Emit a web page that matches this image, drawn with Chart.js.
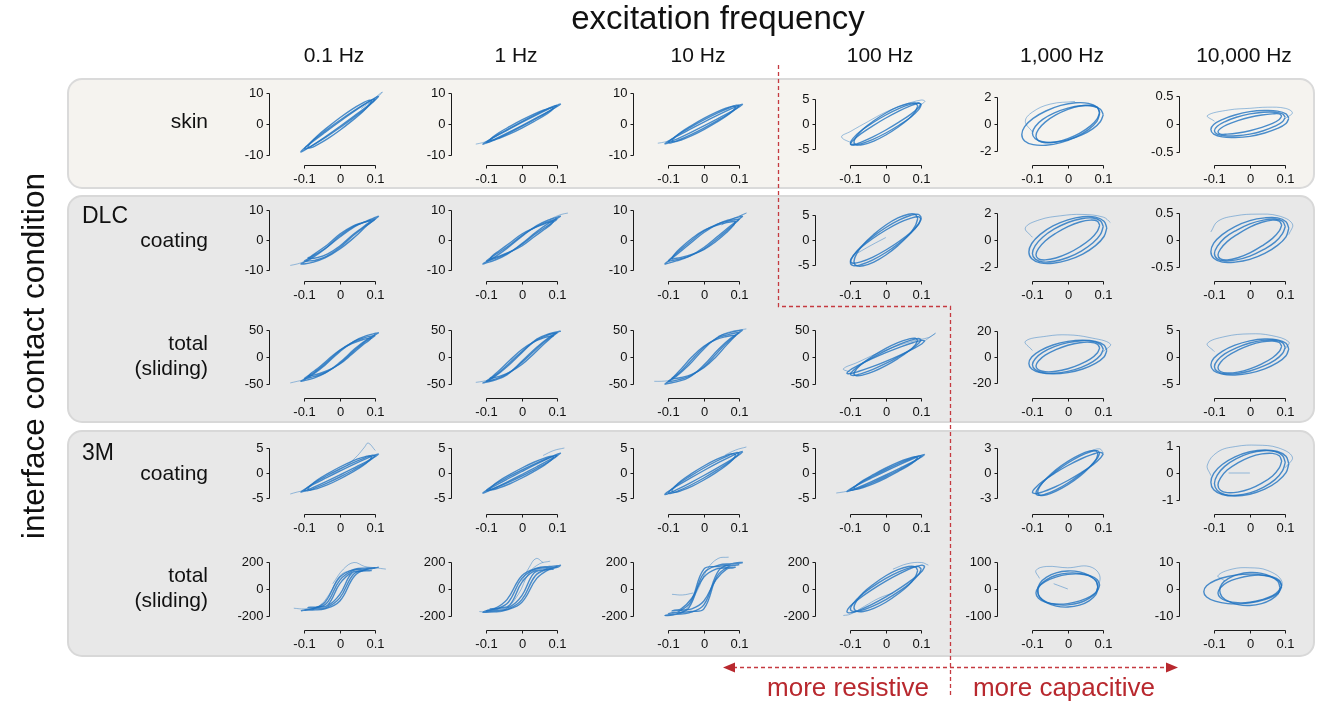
<!DOCTYPE html>
<html>
<head>
<meta charset="utf-8">
<script src="https://cdn.jsdelivr.net/npm/chart.js@4"></script>
<style>
  body { margin: 0; background: #fff; }
  #page { position: relative; width: 1325px; height: 702px; overflow: hidden; font-family: "Liberation Sans", Arial, Helvetica, sans-serif; }
  svg { position: absolute; left: 0; top: 0; }
  canvas { position: absolute; }
</style>
</head>
<body>
<div id="page">
  <svg id="bg" width="1325" height="702"></svg>
  <svg id="fg" width="1325" height="702"></svg>
</div>
<script>
// displacement samples for one cycle (mm), shared by the loops
const X10 = [0.1, 0.092, 0.071, 0.038, 0, -0.038, -0.071, -0.092, -0.1, -0.092, -0.071, -0.038, 0, 0.038, 0.071, 0.092, 0.1];
const X11 = [0.11, 0.102, 0.078, 0.042, 0, -0.042, -0.078, -0.102, -0.11, -0.102, -0.078, -0.042, 0, 0.042, 0.078, 0.102, 0.11];
const X09 = [0.09, 0.083, 0.064, 0.034, 0, -0.034, -0.064, -0.083, -0.09, -0.083, -0.064, -0.034, 0, 0.034, 0.064, 0.083, 0.09];
const X08 = [0.085, 0.079, 0.06, 0.033, 0, -0.033, -0.06, -0.079, -0.085, -0.079, -0.06, -0.033, 0, 0.033, 0.06, 0.079, 0.085];
const X11L = [0.09, 0.082, 0.058, 0.022, -0.02, -0.062, -0.098, -0.122, -0.13, -0.122, -0.098, -0.062, -0.02, 0.022, 0.058, 0.082, 0.09];

const freqLabels = ["0.1 Hz", "1 Hz", "10 Hz", "100 Hz", "1,000 Hz", "10,000 Hz"];
const xTicks = [-0.1, 0, 0.1];

// top y tick of every panel (rows: skin, DLC coating, DLC total, 3M coating, 3M total)
const yTickTop = [
  [10, 10, 10, 5, 2, 0.5],
  [10, 10, 10, 5, 2, 0.5],
  [50, 50, 50, 50, 20, 5],
  [5, 5, 5, 5, 3, 1],
  [200, 200, 200, 200, 100, 10]
];
// y axis limit of every panel
const yLimit = [
  [11.3, 11.3, 11.3, 7, 2.64, 0.625],
  [11.7, 11.7, 11.7, 7, 2.6, 0.65],
  [64.8, 64.8, 64.8, 64.8, 26.9, 6.5],
  [7, 7, 7, 7, 4.2, 1.32],
  [264, 264, 264, 264, 132, 13.2]
];

// ---- skin ----
const skin01 = [
  [X10, [8, 7.85, 6.5, 4.17, 1.2, -1.95, -4.81, -6.93, -8, -7.85, -6.5, -4.17, -1.2, 1.95, 4.81, 6.93, 8]],
  [X11, [9, 8.01, 5.8, 2.71, -0.8, -4.19, -6.93, -8.63, -9, -8.01, -5.8, -2.71, 0.8, 4.19, 6.93, 8.63, 9]],
  [X09, [7.5, 7.7, 6.72, 4.72, 2, -1.02, -3.89, -6.16, -7.5, -7.7, -6.72, -4.72, -2, 1.02, 3.89, 6.16, 7.5]],
  [[0.06, 0.09, 0.11, 0.12, 0.1, 0.08], [5, 7.5, 9.5, 10.3, 8, 6.5]]
];
const skin1 = [
  [X10, [6, 5.85, 4.81, 3.04, 0.8, -1.56, -3.68, -5.23, -6, -5.85, -4.81, -3.04, -0.8, 1.56, 3.68, 5.23, 6]],
  [X11, [6.5, 5.81, 4.24, 2.03, -0.5, -2.95, -4.95, -6.2, -6.5, -5.81, -4.24, -2.03, 0.5, 2.95, 4.95, 6.2, 6.5]],
  [X09, [5.2, 5.3, 4.6, 3.19, 1.3, -0.79, -2.76, -4.3, -5.2, -5.3, -4.6, -3.19, -1.3, 0.79, 2.76, 4.3, 5.2]],
  [[-0.13, -0.11, -0.09], [-6.5, -6, -5.2]]
];
const skin10 = [
  [X10, [6, 6.04, 5.16, 3.5, 1.3, -1.1, -3.32, -5.04, -6, -6.04, -5.16, -3.5, -1.3, 1.1, 3.32, 5.04, 6]],
  [X11, [6.4, 6.14, 4.95, 3, 0.6, -1.9, -4.1, -5.68, -6.4, -6.14, -4.95, -3, -0.6, 1.9, 4.1, 5.68, 6.4]],
  [X09, [5.5, 5.77, 5.16, 3.76, 1.8, -0.44, -2.62, -4.39, -5.5, -5.77, -5.16, -3.76, -1.8, 0.44, 2.62, 4.39, 5.5]],
  [[-0.13, -0.11, -0.09], [-6.2, -5.8, -5]]
];
const skin100 = [
  [X10, [3.8, 4.2, 3.96, 3.12, 1.8, 0.2, -1.41, -2.82, -3.8, -4.2, -3.96, -3.12, -1.8, -0.2, 1.41, 2.82, 3.8]],
  [X10, [4, 4.16, 3.68, 2.64, 1.2, -0.42, -1.98, -3.24, -4, -4.16, -3.68, -2.64, -1.2, 0.42, 1.98, 3.24, 4]],
  [X09, [3.6, 4.17, 4.1, 3.41, 2.2, 0.65, -0.99, -2.49, -3.6, -4.17, -4.1, -3.41, -2.2, -0.65, 0.99, 2.49, 3.6]],
  [[-0.09, -0.125, -0.1, -0.05, 0, 0.05, 0.1, 0.11, 0.09], [-4, -2.6, -1.5, 0.5, 2.4, 3.8, 4.8, 4.5, 3.5]]
];
const skin1k = [
  [X10, [0.7, 1.11, 1.34, 1.38, 1.2, 0.84, 0.35, -0.19, -0.7, -1.11, -1.34, -1.38, -1.2, -0.84, -0.35, 0.19, 0.7]],
  [X11L, [0.8, 1.28, 1.56, 1.6, 1.4, 0.98, 0.42, -0.2, -0.8, -1.28, -1.56, -1.6, -1.4, -0.98, -0.42, 0.2, 0.8]],
  [X09, [0.9, 1.25, 1.41, 1.36, 1.1, 0.68, 0.14, -0.41, -0.9, -1.25, -1.41, -1.36, -1.1, -0.68, -0.14, 0.41, 0.9]],
  [[-0.1, -0.12, -0.1, -0.05, 0.02], [-0.6, 0.2, 0.9, 1.5, 1.7]]
];
const skin10k = [
  [X10, [0.12, 0.18, 0.21, 0.21, 0.18, 0.12, 0.04, -0.04, -0.12, -0.18, -0.21, -0.21, -0.18, -0.12, -0.04, 0.04, 0.12]],
  [X11, [0.1, 0.18, 0.23, 0.24, 0.22, 0.16, 0.08, -0.01, -0.1, -0.18, -0.23, -0.24, -0.22, -0.16, -0.08, 0.01, 0.1]],
  [X09, [0.14, 0.18, 0.18, 0.16, 0.12, 0.06, -0.01, -0.08, -0.14, -0.18, -0.18, -0.16, -0.12, -0.06, 0.01, 0.08, 0.14]],
  [[-0.1, -0.12, -0.06, 0, 0.05, 0.1, 0.12, 0.1], [0.05, 0.15, 0.25, 0.28, 0.3, 0.28, 0.2, 0.1]]
];

// ---- DLC coating ----
const dlcCoat01 = [
  [X10, [7, 6.8, 6, 4.5, 1.5, -2.5, -5, -6.5, -7, -7, -6.8, -5.5, -2.5, 1.5, 4.5, 6.3, 7]],
  [X11, [8, 7.6, 6.5, 4.5, 1, -3, -6, -7.5, -8, -8, -7.5, -6, -3, 1, 5, 7.2, 8]],
  [X09, [6.5, 6.4, 5.8, 4.5, 2, -1.5, -4, -5.6, -6, -6.2, -5.9, -4.6, -2, 1.5, 4.2, 5.9, 6.5]],
  [[-0.14, -0.12, -0.1], [-8.5, -8, -7.2]]
];
const dlcCoat1 = [
  [X10, [7, 6.8, 6, 4.3, 1.5, -2, -4.6, -6.3, -7, -6.8, -6, -4.3, -1.5, 2, 4.6, 6.3, 7]],
  [X11, [8, 7.7, 6.8, 4.8, 1.2, -2.8, -5.8, -7.4, -8, -7.7, -6.8, -4.8, -1.2, 2.8, 5.8, 7.4, 8]],
  [X09, [6.3, 6.1, 5.4, 4, 2, -1, -3.6, -5.3, -6.3, -6.1, -5.4, -4, -2, 1, 3.6, 5.3, 6.3]],
  [[0.08, 0.11, 0.13], [7, 8.5, 9]]
];
const dlcCoat10 = [
  [X10, [7, 6.9, 6.4, 5.3, 3, -0.5, -3.8, -6, -7, -6.9, -6.4, -5.3, -3, 0.5, 3.8, 6, 7]],
  [X11, [8, 7.8, 7, 5.5, 2.5, -1.5, -5, -7.2, -8, -7.8, -7, -5.5, -2.5, 1.5, 5, 7.2, 8]],
  [X09, [6.3, 6.2, 5.8, 4.8, 3.2, 0.5, -2.5, -4.8, -6.3, -6.2, -5.8, -4.8, -3.2, -0.5, 2.5, 4.8, 6.3]],
  [[0.05, 0.08, 0.11, 0.12, 0.1], [5, 7, 8.5, 9, 8]]
];
const dlcCoat100 = [
  [X10, [4.5, 5.12, 4.95, 4.03, 2.5, 0.59, -1.41, -3.2, -4.5, -5.12, -4.95, -4.03, -2.5, -0.59, 1.41, 3.2, 4.5]],
  [X10, [4.2, 4.65, 4.38, 3.46, 2, 0.24, -1.56, -3.11, -4.2, -4.65, -4.38, -3.46, -2, -0.24, 1.56, 3.11, 4.2]],
  [X09, [4.3, 5.12, 5.16, 4.42, 3, 1.12, -0.92, -2.82, -4.3, -5.12, -5.16, -4.42, -3, -1.12, 0.92, 2.82, 4.3]],
  [[0, -0.04, -0.08], [0.5, -1, -2.6]]
];
const dlcCoat1k = [
  [X10, [1, 1.42, 1.63, 1.58, 1.3, 0.82, 0.21, -0.42, -1, -1.42, -1.63, -1.58, -1.3, -0.82, -0.21, 0.42, 1]],
  [X11, [0.9, 1.4, 1.7, 1.73, 1.5, 1.05, 0.42, -0.26, -0.9, -1.4, -1.7, -1.73, -1.5, -1.05, -0.42, 0.26, 0.9]],
  [X09, [1.1, 1.4, 1.48, 1.34, 1, 0.5, -0.07, -0.64, -1.1, -1.4, -1.48, -1.34, -1, -0.5, 0.07, 0.64, 1.1]],
  [[-0.1, -0.12, -0.08, -0.02, 0.04, 0.1, 0.12], [0.2, 0.9, 1.5, 1.8, 1.9, 1.7, 1.3]]
];
const dlcCoat10k = [
  [X10, [0.25, 0.35, 0.39, 0.37, 0.3, 0.18, 0.04, -0.12, -0.25, -0.35, -0.39, -0.37, -0.3, -0.18, -0.04, 0.12, 0.25]],
  [X11, [0.22, 0.34, 0.41, 0.41, 0.36, 0.25, 0.1, -0.06, -0.22, -0.34, -0.41, -0.41, -0.36, -0.25, -0.1, 0.06, 0.22]],
  [X09, [0.28, 0.35, 0.37, 0.33, 0.24, 0.11, -0.03, -0.17, -0.28, -0.35, -0.37, -0.33, -0.24, -0.11, 0.03, 0.17, 0.28]],
  [[-0.11, -0.09, -0.04, 0.02, 0.08, 0.12, 0.11], [0.15, 0.35, 0.45, 0.48, 0.45, 0.3, 0.1]]
];

// ---- DLC total (sliding) ----
const dlcTot01 = [
  [X10, [40, 39, 36, 28, 12, -10, -28, -36, -40, -39, -36, -28, -12, 10, 28, 36, 40]],
  [X11, [45, 44, 40, 30, 10, -15, -33, -42, -45, -44, -40, -30, -10, 15, 33, 42, 45]],
  [X09, [36, 35, 32, 25, 13, -5, -22, -31, -36, -35, -32, -25, -13, 5, 22, 31, 36]],
  [[-0.14, -0.12, -0.1, -0.08], [-48, -45, -42, -38]]
];
const dlcTot1 = [
  [X10, [45, 44, 40, 30, 10, -13, -32, -41, -45, -44, -40, -30, -10, 13, 32, 41, 45]],
  [X11, [48, 47, 43, 33, 8, -18, -37, -46, -48, -47, -43, -33, -8, 18, 37, 46, 48]],
  [X09, [40, 39, 36, 28, 14, -6, -25, -36, -40, -39, -36, -28, -14, 6, 25, 36, 40]],
  [[-0.13, -0.11, -0.09], [-47, -45, -42]]
];
const dlcTot10 = [
  [X10, [45, 45, 42, 35, 18, -8, -30, -41, -45, -45, -42, -35, -18, 8, 30, 41, 45]],
  [X11, [50, 49, 46, 38, 15, -15, -36, -46, -50, -49, -46, -38, -15, 15, 36, 46, 50]],
  [X09, [40, 40, 38, 32, 20, 0, -22, -35, -40, -40, -38, -32, -20, 0, 22, 35, 40]],
  [[0.04, 0.07, 0.1, 0.12], [38, 46, 50, 52]],
  [[-0.14, -0.12, -0.1], [-45, -45, -44]]
];
const dlcTot100 = [
  [X10, [32, 34.2, 31.1, 23.4, 12, -1.2, -14.1, -25, -32, -34.2, -31.1, -23.4, -12, 1.2, 14.1, 25, 32]],
  [X11, [30, 30.8, 26.9, 18.9, 8, -4.1, -15.6, -24.6, -30, -30.8, -26.9, -18.9, -8, 4.1, 15.6, 24.6, 30]],
  [X09, [31, 34.7, 33.2, 26.7, 16, 2.9, -10.6, -22.5, -31, -34.7, -33.2, -26.7, -16, -2.9, 10.6, 22.5, 31]],
  [[-0.1, -0.12, -0.08, -0.03, 0.03, 0.08, 0.12, 0.14, 0.11], [-28, -22, -10, 5, 20, 30, 36, 44, 30]]
];
const dlcTot1k = [
  [X10, [6, 9.7, 12, 12.5, 11, 7.9, 3.5, -1.3, -6, -9.7, -12, -12.5, -11, -7.9, -3.5, 1.3, 6]],
  [X11, [5, 9.2, 12, 13, 12, 9.2, 4.9, 0, -5, -9.2, -12, -13, -12, -9.2, -4.9, 0, 5]],
  [X09, [7, 9.9, 11.3, 11, 9, 5.6, 1.4, -3.1, -7, -9.9, -11.3, -11, -9, -5.6, -1.4, 3.1, 7]],
  [[-0.1, -0.12, -0.06, 0, 0.06, 0.12, 0.1], [5, 12, 16, 17, 15, 10, 4]]
];
const dlcTot10k = [
  [X10, [1.8, 2.66, 3.11, 3.09, 2.6, 1.71, 0.57, -0.66, -1.8, -2.66, -3.11, -3.09, -2.6, -1.71, -0.57, 0.66, 1.8]],
  [X11, [1.5, 2.54, 3.18, 3.34, 3, 2.2, 1.06, -0.24, -1.5, -2.54, -3.18, -3.34, -3, -2.2, -1.06, 0.24, 1.5]],
  [X09, [2, 2.69, 2.97, 2.8, 2.2, 1.26, 0.14, -1.01, -2, -2.69, -2.97, -2.8, -2.2, -1.26, -0.14, 1.01, 2]],
  [[-0.1, -0.12, -0.07, 0, 0.06, 0.11, 0.1], [1, 2.5, 3.8, 4.3, 4, 2.8, 1.5]]
];

// ---- 3M coating ----
const m3Coat01 = [
  [X10, [3.5, 3.54, 3.04, 2.08, 0.8, -0.6, -1.91, -2.92, -3.5, -3.54, -3.04, -2.08, -0.8, 0.6, 1.91, 2.92, 3.5]],
  [X11, [3.8, 3.66, 2.97, 1.83, 0.4, -1.09, -2.4, -3.36, -3.8, -3.66, -2.97, -1.83, -0.4, 1.09, 2.4, 3.36, 3.8]],
  [X09, [3.2, 3.42, 3.11, 2.34, 1.2, -0.12, -1.41, -2.5, -3.2, -3.42, -3.11, -2.34, -1.2, 0.12, 1.41, 2.5, 3.2]],
  [[0.02, 0.05, 0.07, 0.08, 0.1], [1.5, 3.5, 5.2, 6, 4.5]],
  [[-0.14, -0.12, -0.1], [-4.2, -3.8, -3.5]]
];
const m3Coat1 = [
  [X10, [3.5, 3.46, 2.9, 1.89, 0.6, -0.79, -2.05, -3, -3.5, -3.46, -2.9, -1.89, -0.6, 0.79, 2.05, 3, 3.5]],
  [X11, [4, 3.81, 3.04, 1.81, 0.3, -1.25, -2.62, -3.59, -4, -3.81, -3.04, -1.81, -0.3, 1.25, 2.62, 3.59, 4]],
  [X09, [3.2, 3.34, 2.97, 2.15, 1, -0.31, -1.56, -2.58, -3.2, -3.34, -2.97, -2.15, -1, 0.31, 1.56, 2.58, 3.2]],
  [[0.06, 0.09, 0.12], [3.5, 4.5, 5]]
];
const m3Coat10 = [
  [X10, [4, 4.08, 3.54, 2.45, 1, -0.61, -2.12, -3.32, -4, -4.08, -3.54, -2.45, -1, 0.61, 2.12, 3.32, 4]],
  [X11, [4.3, 4.16, 3.39, 2.11, 0.5, -1.19, -2.69, -3.78, -4.3, -4.16, -3.39, -2.11, -0.5, 1.19, 2.69, 3.78, 4.3]],
  [X09, [3.6, 3.87, 3.54, 2.67, 1.4, -0.09, -1.56, -2.79, -3.6, -3.87, -3.54, -2.67, -1.4, 0.09, 1.56, 2.79, 3.6]],
  [[0.06, 0.09, 0.12], [3.6, 4.6, 5.2]]
];
const m3Coat100 = [
  [X10, [3.4, 3.41, 2.9, 1.95, 0.7, -0.65, -1.91, -2.87, -3.4, -3.41, -2.9, -1.95, -0.7, 0.65, 1.91, 2.87, 3.4]],
  [X11, [3.7, 3.57, 2.9, 1.79, 0.4, -1.05, -2.33, -3.27, -3.7, -3.57, -2.9, -1.79, -0.4, 1.05, 2.33, 3.27, 3.7]],
  [X09, [3.1, 3.24, 2.9, 2.11, 1, -0.27, -1.48, -2.48, -3.1, -3.24, -2.9, -2.11, -1, 0.27, 1.48, 2.48, 3.1]],
  [[-0.14, -0.12, -0.1], [-4, -3.8, -3.5]]
];
const m3Coat1k = [
  [X09, [2.4, 2.68, 2.55, 2.03, 1.2, 0.19, -0.85, -1.76, -2.4, -2.68, -2.55, -2.03, -1.2, -0.19, 0.85, 1.76, 2.4]],
  [X10, [2.3, 2.47, 2.26, 1.71, 0.9, -0.05, -0.99, -1.79, -2.3, -2.47, -2.26, -1.71, -0.9, 0.05, 0.99, 1.79, 2.3]],
  [X08, [2.3, 2.67, 2.62, 2.17, 1.4, 0.41, -0.64, -1.59, -2.3, -2.67, -2.62, -2.17, -1.4, -0.41, 0.64, 1.59, 2.3]],
  [[0.06, 0.09, 0.1], [2.6, 2.9, 2.4]]
];
const m3Coat10k = [
  [X10, [0.4, 0.66, 0.81, 0.84, 0.75, 0.54, 0.25, -0.08, -0.4, -0.66, -0.81, -0.84, -0.75, -0.54, -0.25, 0.08, 0.4]],
  [X11, [0.35, 0.63, 0.81, 0.87, 0.8, 0.61, 0.32, -0.01, -0.35, -0.63, -0.81, -0.87, -0.8, -0.61, -0.32, 0.01, 0.35]],
  [X09, [0.45, 0.65, 0.74, 0.72, 0.6, 0.38, 0.11, -0.19, -0.45, -0.65, -0.74, -0.72, -0.6, -0.38, -0.11, 0.19, 0.45]],
  [[-0.11, -0.12, -0.09, -0.04, 0.02, 0.08, 0.12, 0.1], [-0.1, 0.3, 0.8, 1, 1.05, 0.95, 0.6, 0.2]],
  [[-0.06, 0], [0, 0]]
];

// ---- 3M total (sliding) ----
const m3Tot01 = [
  [X10, [160, 155, 150, 140, 67, -110, -145, -155, -160, -155, -150, -140, -67, 110, 145, 155, 160]],
  [X11, [165, 160, 158, 150, 90, -100, -152, -160, -165, -160, -158, -150, -90, 100, 152, 160, 165]],
  [X09, [140, 138, 135, 125, 40, -120, -138, -140, -140, -138, -135, -125, -40, 120, 138, 140, 140]],
  [[-0.13, -0.1, -0.06, -0.03, 0, 0.03, 0.06], [-145, -150, -130, -40, 100, 140, 150]],
  [[-0.02, 0.01, 0.04, 0.07, 0.1, 0.13], [40, 150, 200, 170, 160, 150]]
];
const m3Tot1 = [
  [X10, [170, 165, 160, 150, 80, -100, -150, -160, -165, -165, -160, -150, -80, 100, 150, 160, 170]],
  [X11, [180, 175, 170, 158, 100, -80, -150, -165, -175, -175, -170, -158, -100, 80, 150, 165, 180]],
  [X09, [150, 148, 145, 135, 50, -120, -145, -150, -150, -148, -145, -135, -50, 120, 145, 148, 150]],
  [[-0.12, -0.09, -0.05, -0.01, 0.02, 0.05, 0.08], [-170, -175, -160, -40, 120, 190, 210]],
  [[0, 0.02, 0.04, 0.06], [60, 160, 230, 200]]
];
const m3Tot10 = [
  [X10, [185, 182, 178, 170, 150, -100, -170, -180, -185, -182, -178, -170, -150, 100, 170, 180, 185]],
  [X11, [200, 195, 190, 180, 120, -140, -190, -200, -200, -195, -190, -180, -120, 140, 190, 200, 200]],
  [X09, [165, 162, 160, 150, 90, -70, -150, -160, -165, -162, -160, -150, -90, 70, 150, 160, 165]],
  [[-0.11, -0.08, -0.05, -0.02, 0.01, 0.04, 0.07], [-200, -190, -150, -20, 150, 230, 240]],
  [[-0.09, -0.06, -0.03], [-40, -45, -30]]
];
const m3Tot100 = [
  [X10, [150, 169, 163, 131, 80, 16, -49.5, -108, -150, -169, -163, -131, -80, -16, 49.5, 108, 150]],
  [X11, [170, 180, 163, 120, 60, -10, -78, -134, -170, -180, -163, -120, -60, 10, 78, 134, 170]],
  [X09, [140, 167, 170, 146, 100, 38, -28, -91, -140, -167, -170, -146, -100, -38, 28, 91, 140]],
  [[-0.12, -0.1, -0.06, -0.02, 0.02], [-200, -190, -130, -70, -30]],
  [[0.02, 0.06, 0.1, 0.12], [150, 190, 200, 180]]
];
const m3Tot1k = [
  [X08, [10, 32, 49.5, 59, 60, 52, 35, 14, -10, -32, -49.5, -59, -60, -52, -35, -14, 10]],
  [X09, [15, 35, 49.5, 56.5, 55, 45, 28, 7, -15, -35, -49.5, -56.5, -55, -45, -28, -7, 15]],
  [X08, [5, 30.6, 51.6, 64.7, 68, 61, 44.5, 21.4, -5, -30.6, -51.6, -64.7, -68, -61, -44.5, -21.4, 5]],
  [[-0.08, -0.09, -0.06, 0, 0.06, 0.09, 0.08], [40, 70, 85, 80, 85, 50, -10]],
  [[-0.04, 0], [20, 0]]
];
const m3Tot10k = [
  [X11L, [1, 3, 4.6, 5.5, 5.5, 4.7, 3.2, 1.2, -1, -3, -4.6, -5.5, -5.5, -4.7, -3.2, -1.2, 1]],
  [X09, [1.5, 3.3, 4.6, 5.2, 5, 4, 2.5, 0.5, -1.5, -3.3, -4.6, -5.2, -5, -4, -2.5, -0.5, 1.5]],
  [X08, [0.5, 2.9, 4.7, 5.9, 6.2, 5.5, 4, 1.9, -0.5, -2.9, -4.7, -5.9, -6.2, -5.5, -4, -1.9, 0.5]],
  [[-0.07, -0.09, -0.05, 0, 0.05, 0.09, 0.08], [3, 5, 7.5, 8, 7, 3, -2]]
];

const panels = [
  [skin01, skin1, skin10, skin100, skin1k, skin10k],
  [dlcCoat01, dlcCoat1, dlcCoat10, dlcCoat100, dlcCoat1k, dlcCoat10k],
  [dlcTot01, dlcTot1, dlcTot10, dlcTot100, dlcTot1k, dlcTot10k],
  [m3Coat01, m3Coat1, m3Coat10, m3Coat100, m3Coat1k, m3Coat10k],
  [m3Tot01, m3Tot1, m3Tot10, m3Tot100, m3Tot1k, m3Tot10k]
];

// layout (page pixels)
const colAxisX = [269, 451, 633, 815, 997, 1179];
const rowZeroY = [124, 240, 357, 473, 589];

const FONT = '"Liberation Sans", Arial, Helvetica, sans-serif';
const RED = "#b8282e";
const BLUE = "rgba(30,114,192,0.8)";

// detached axes drawn like the original (y spine left, x spine below)
const spines = {
  id: "spines",
  afterDraw(chart) {
    const { ctx, chartArea, scales } = chart;
    const t = chart.options.plugins.spines.tick;
    const ax = Math.round(chartArea.left) + 0.5;
    const yT = Math.round(scales.y.getPixelForValue(t)) + 0.5;
    const yB = Math.round(scales.y.getPixelForValue(-t)) + 0.5;
    const y0 = Math.round(scales.y.getPixelForValue(0)) + 0.5;
    const ay = Math.round(chartArea.bottom + 6) + 0.5;
    const xp = xTicks.map(v => Math.round(scales.x.getPixelForValue(v)) + 0.5);

    ctx.save();
    ctx.strokeStyle = "#1a1a1a";
    ctx.lineWidth = 1;
    ctx.beginPath();
    ctx.moveTo(ax - 3, yT); ctx.lineTo(ax, yT); ctx.lineTo(ax, yB); ctx.lineTo(ax - 3, yB);
    ctx.moveTo(ax - 3, y0); ctx.lineTo(ax, y0);
    ctx.moveTo(xp[0], ay + 3); ctx.lineTo(xp[0], ay); ctx.lineTo(xp[2], ay); ctx.lineTo(xp[2], ay + 3);
    ctx.moveTo(xp[1], ay); ctx.lineTo(xp[1], ay + 3);
    ctx.stroke();

    ctx.fillStyle = "#111";
    ctx.font = "13px " + FONT;
    ctx.textAlign = "right";
    ctx.textBaseline = "middle";
    ctx.fillText(String(t), ax - 6, yT);
    ctx.fillText("0", ax - 6, y0);
    ctx.fillText(String(-t), ax - 6, yB);
    ctx.textAlign = "center";
    xTicks.forEach((v, i) => ctx.fillText(String(v), xp[i], ay + 14));
    ctx.restore();
  }
};

const page = document.getElementById("page");
const fg = document.getElementById("fg");

panels.forEach((row, r) => {
  row.forEach((traces, c) => {
    const cv = document.createElement("canvas");
    cv.width = 190;
    cv.height = 130;
    cv.style.left = (colAxisX[c] - 50) + "px";
    cv.style.top = (rowZeroY[r] - 53) + "px";
    page.insertBefore(cv, fg);

    new Chart(cv, {
      type: "scatter",
      data: {
        datasets: traces.map((tr, i) => ({
          data: tr[0].map((x, j) => ({ x: x, y: tr[1][j] })),
          showLine: true,
          pointRadius: 0,
          borderColor: i < 3 ? BLUE : "rgba(30,114,192,0.55)",
          borderWidth: i < 3 ? 1.4 : 0.8,
          tension: 0.4,
          clip: false
        }))
      },
      options: {
        responsive: false,
        animation: false,
        events: [],
        layout: { padding: { left: 50, right: 16, top: 18, bottom: 42 } },
        scales: {
          x: { type: "linear", min: -0.2, max: 0.15, display: false },
          y: { type: "linear", min: -yLimit[r][c], max: yLimit[r][c], display: false }
        },
        plugins: {
          legend: { display: false },
          tooltip: { enabled: false },
          spines: { tick: yTickTop[r][c] }
        }
      },
      plugins: [spines]
    });
  });
});

// ---- boxes, labels, annotations ----
const NS = "http://www.w3.org/2000/svg";
function el(parent, tag, attrs, text) {
  const e = document.createElementNS(NS, tag);
  Object.entries(attrs).forEach(([k, v]) => e.setAttribute(k, v));
  if (text !== undefined) e.textContent = text;
  parent.appendChild(e);
  return e;
}

const bg = document.getElementById("bg");
el(bg, "rect", { x: 68, y: 79, width: 1246, height: 109, rx: 14, fill: "#f5f3ef", stroke: "#dadada", "stroke-width": 2 });
el(bg, "rect", { x: 68, y: 196, width: 1246, height: 226, rx: 14, fill: "#e8e8e8", stroke: "#d8d8d8", "stroke-width": 2 });
el(bg, "rect", { x: 68, y: 431, width: 1246, height: 225, rx: 14, fill: "#e8e8e8", stroke: "#d8d8d8", "stroke-width": 2 });

const txt = (x, y, s, size, anchor, fill, extra) =>
  el(fg, "text", Object.assign({ x: x, y: y, "font-size": size, "font-family": FONT, "text-anchor": anchor,
    "dominant-baseline": "central", fill: fill || "#111" }, extra || {}), s);

txt(718, 17, "excitation frequency", 33, "middle");
txt(33, 356, "interface contact condition", 31.5, "middle", "#111", { transform: "rotate(-90 33 356)" });

freqLabels.forEach((s, c) => txt(colAxisX[c] + 65, 54, s, 21, "middle"));

txt(208, 120, "skin", 21, "end");
txt(82, 215, "DLC", 23, "start");
txt(208, 239, "coating", 21, "end");
txt(208, 342, "total", 21, "end");
txt(208, 367, "(sliding)", 21, "end");
txt(82, 452, "3M", 23, "start");
txt(208, 472, "coating", 21, "end");
txt(208, 574, "total", 21, "end");
txt(208, 599, "(sliding)", 21, "end");

// resistive / capacitive divider
el(fg, "path", { d: "M778.5 65 V306.5 H950.5 V698", fill: "none", stroke: "#c53a40", "stroke-width": 1.3, "stroke-dasharray": "4 3" });
el(fg, "line", { x1: 733, y1: 667.5, x2: 1168, y2: 667.5, stroke: "#c53a40", "stroke-width": 1.3, "stroke-dasharray": "4 3" });
el(fg, "polygon", { points: "723,667.5 735,662.5 735,672.5", fill: "#b8282e" });
el(fg, "polygon", { points: "1178,667.5 1166,662.5 1166,672.5", fill: "#b8282e" });
txt(848, 687, "more resistive", 26, "middle", RED);
txt(1064, 687, "more capacitive", 26, "middle", RED);
</script>
</body>
</html>
